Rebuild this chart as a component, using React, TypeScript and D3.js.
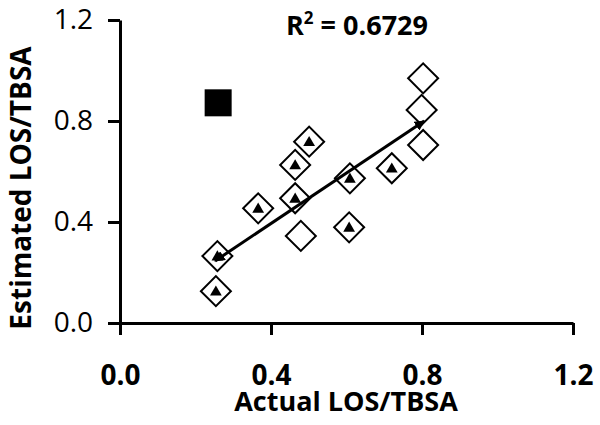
import React, { useEffect, useRef } from 'react'
import * as d3 from 'd3'

// open diamonds (actual vs estimated)
const diamondX = [0.803, 0.799, 0.803, 0.501, 0.464, 0.72, 0.609, 0.464, 0.366, 0.479, 0.607, 0.258, 0.254]
const diamondY = [0.969, 0.844, 0.705, 0.718, 0.626, 0.613, 0.573, 0.494, 0.454, 0.345, 0.379, 0.265, 0.126]

// filled triangles
const triangleX = [0.501, 0.464, 0.72, 0.609, 0.464, 0.366, 0.607, 0.258, 0.254]
const triangleY = [0.718, 0.626, 0.613, 0.573, 0.494, 0.454, 0.379, 0.265, 0.126]

// outlier (filled square)
const squareX = [0.26]
const squareY = [0.872]

// trend line ends
const trendX = [0.252, 0.806]
const trendY = [0.246, 0.8]

const xTicks = [0, 0.4, 0.8, 1.2]
const yTicks = [0, 0.4, 0.8, 1.2]
const rSquared = '0.6729'

const FONT = "'Open Sans', sans-serif"

export default function App() {
  const ref = useRef<SVGSVGElement>(null)

  useEffect(() => {
    const svg = d3.select(ref.current)
    svg.selectAll('*').remove()

    const x = d3.scaleLinear().domain([0, 1.2]).range([120, 573])
    const y = d3.scaleLinear().domain([0, 1.2]).range([323, 20])

    svg.append('defs').append('marker')
      .attr('id', 'arrow')
      .attr('viewBox', '0 0 10 10')
      .attr('refX', 9)
      .attr('refY', 5)
      .attr('markerWidth', 3.5)
      .attr('markerHeight', 3.5)
      .attr('orient', 'auto-start-reverse')
      .append('path')
      .attr('d', 'M0,0 L10,5 L0,10 z')
      .attr('fill', '#000')

    // axes
    const xAxis = svg.append('g')
      .attr('transform', 'translate(0,323)')
      .call(d3.axisBottom(x).tickValues(xTicks).tickFormat(d3.format('.1f')).tickSize(12).tickSizeOuter(0).tickPadding(30))
    const yAxis = svg.append('g')
      .attr('transform', 'translate(120,0)')
      .call(d3.axisLeft(y).tickValues(yTicks).tickFormat(d3.format('.1f')).tickSize(12).tickSizeOuter(0).tickPadding(15))

    ;[xAxis, yAxis].forEach(g => {
      g.attr('font-family', FONT).attr('font-size', 28)
      g.select('.domain').attr('stroke', '#000').attr('stroke-width', 3)
      g.selectAll('.tick line').attr('stroke', '#000').attr('stroke-width', 3)
      g.selectAll('.tick text').attr('fill', '#000')
    })
    xAxis.selectAll('.tick text').attr('font-weight', 'bold')
    yAxis.selectAll('.tick text').attr('x', -27)

    // trend line
    svg.append('line')
      .attr('x1', x(trendX[0])).attr('y1', y(trendY[0]))
      .attr('x2', x(trendX[1])).attr('y2', y(trendY[1]))
      .attr('stroke', '#000')
      .attr('stroke-width', 3)
      .attr('marker-start', 'url(#arrow)')
      .attr('marker-end', 'url(#arrow)')

    // diamonds
    const diamond = d3.symbol(d3.symbolSquare, 450)
    svg.append('g').selectAll('path')
      .data(diamondX.map((d, i) => [d, diamondY[i]]))
      .enter().append('path')
      .attr('d', diamond)
      .attr('transform', d => 'translate(' + x(d[0]) + ',' + y(d[1]) + ') rotate(45)')
      .attr('fill', 'none')
      .attr('stroke', '#000')
      .attr('stroke-width', 2)

    // triangles
    const tri = d3.symbol(d3.symbolTriangle, 60)
    svg.append('g').selectAll('path')
      .data(triangleX.map((d, i) => [d, triangleY[i]]))
      .enter().append('path')
      .attr('d', tri)
      .attr('transform', d => 'translate(' + x(d[0]) + ',' + (y(d[1]) + 1) + ')')
      .attr('fill', '#000')

    // square
    svg.append('g').selectAll('rect')
      .data(squareX.map((d, i) => [d, squareY[i]]))
      .enter().append('rect')
      .attr('x', d => x(d[0]) - 13.5)
      .attr('y', d => y(d[1]) - 13.5)
      .attr('width', 27)
      .attr('height', 27)
      .attr('fill', '#000')

    // R squared
    const r2 = svg.append('text')
      .attr('x', 357).attr('y', 35)
      .attr('text-anchor', 'middle')
      .attr('font-family', FONT).attr('font-weight', 'bold').attr('font-size', 27)
    r2.append('tspan').text('R')
    r2.append('tspan').attr('dy', -11).attr('font-size', 17).text('2')
    r2.append('tspan').attr('dy', 11).text(' = ' + rSquared)

    // axis titles
    svg.append('text')
      .attr('x', 346).attr('y', 411)
      .attr('text-anchor', 'middle')
      .attr('font-family', FONT).attr('font-weight', 'bold').attr('font-size', 27)
      .text('Actual LOS/TBSA')

    svg.append('text')
      .attr('transform', 'translate(31,188) rotate(-90)')
      .attr('text-anchor', 'middle')
      .attr('font-family', FONT).attr('font-weight', 'bold').attr('font-size', 28)
      .text('Estimated LOS/TBSA')
  }, [])

  return (
    <svg ref={ref} width={600} height={425} style={{ position: 'absolute', left: 0, top: 0, background: '#fff' }} />
  )
}
